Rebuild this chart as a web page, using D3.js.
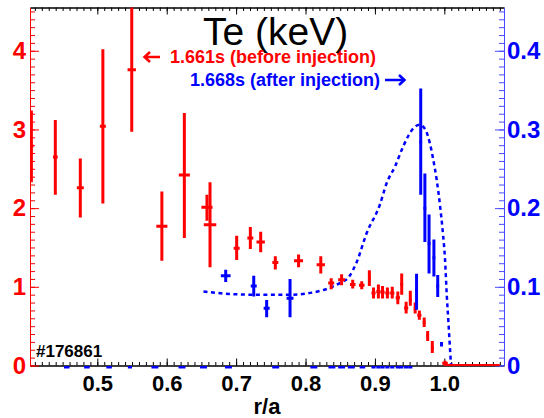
<!DOCTYPE html>
<html>
<head>
<meta charset="utf-8">
<script src="https://cdn.jsdelivr.net/npm/d3@7"></script>
<style>
  body { margin: 0; background: #fff; }
  svg { display: block; font-family: "Liberation Sans", Arial, sans-serif; }
</style>
</head>
<body>
<div id="vis"></div>
<script>
const width = 544;
const height = 418;

// red: 1.661s (before injection), left axis in keV
const redR  = [0.405, 0.4395, 0.4755, 0.508, 0.5496, 0.593, 0.6254, 0.658, 0.6624, 0.7008, 0.7205, 0.7354, 0.7565, 0.790, 0.822, 0.837, 0.852, 0.868, 0.881, 0.892, 0.898, 0.905, 0.911, 0.918, 0.925, 0.933, 0.9386, 0.945, 0.951, 0.958, 0.964, 0.971, 0.976, 0.9827, 1.001];
const redTe = [2.79, 2.65, 2.26, 3.04, 3.76, 1.77, 2.42, 2.01, 1.79, 1.49, 1.62, 1.57, 1.31, 1.33, 1.28, 1.05, 1.09, 1.03, 1.02, 1.11, 0.92, 0.94, 0.93, 0.92, 0.92, 0.86, 1.03, 0.73, 0.83, 0.72, 0.64, 0.545, 0.376, 0.227, 0.03];
const redLo = [2.33, 2.17, 1.88, 2.06, 2.97, 1.33, 1.62, 1.84, 1.25, 1.34, 1.48, 1.44, 1.22, 1.25, 1.17, 0.97, 1.02, 0.98, 0.97, 1.01, 0.85, 0.85, 0.85, 0.85, 0.85, 0.78, 0.90, 0.66, 0.76, 0.66, 0.58, 0.49, 0.31, 0.16, 0.0];
const redHi = [3.24, 3.12, 2.63, 4.02, 4.80, 2.21, 3.21, 2.17, 2.33, 1.65, 1.76, 1.70, 1.39, 1.41, 1.39, 1.11, 1.16, 1.09, 1.07, 1.21, 0.99, 1.03, 1.01, 0.99, 1.00, 0.94, 1.17, 0.81, 0.95, 0.80, 0.70, 0.61, 0.44, 0.31, 0.06];
const redXErr = [0.003, 0.0034, 0.005, 0.0043, 0.006, 0.008, 0.008, 0.008, 0.009, 0.0043, 0.0043, 0.006, 0.0043, 0.0065, 0.006, 0.0043, 0.005, 0.004, 0.004, 0.002, 0.003, 0.003, 0.003, 0.003, 0.003, 0.003, 0.002, 0.003, 0.002, 0.002, 0.003, 0.002, 0.002, 0.002, 0.004];
// red points at zero beyond the edge
const redZeroR = [1.01, 1.03, 1.05, 1.07];

// blue: 1.668s (after injection), right axis in keV
const blueR  = [0.685, 0.7254, 0.744, 0.7777, 0.960, 0.966, 0.972, 0.978, 0.985, 0.9905, 0.996];
const blueTe = [0.114, 0.101, 0.0729, 0.0856, 0.0962, 0.284, 0.200, 0.155, 0.137, 0.101, 0.027];
const blueLo = [0.106, 0.0877, 0.0614, 0.0614, 0.0707, 0.217, 0.157, 0.117, 0.113, 0.087, 0.024];
const blueHi = [0.1217, 0.114, 0.0834, 0.1098, 0.1166, 0.352, 0.244, 0.192, 0.160, 0.115, 0.030];
const blueXErr = [0.007, 0.0043, 0.0043, 0.005, 0.002, 0.002, 0.002, 0.002, 0.002, 0.002, 0.002];
// blue points sitting at ~0 (drawn just under the axis)
const blueZeroR = [0.456, 0.485, 0.517, 0.547, 0.583, 0.622, 0.653, 0.689, 0.757, 0.812, 0.838, 0.852, 0.866, 0.882, 0.898, 0.905, 0.911, 0.918, 0.925, 0.933, 0.938, 0.945, 0.951];
const blueZeroXErr = [0.004, 0.004, 0.004, 0.003, 0.005, 0.005, 0.005, 0.005, 0.005, 0.005, 0.005, 0.005, 0.005, 0.004, 0.003, 0.003, 0.003, 0.003, 0.003, 0.003, 0.003, 0.003, 0.003];

// blue dotted fit
const fitR  = [0.653, 0.69, 0.725, 0.778, 0.826, 0.85, 0.862, 0.874, 0.888, 0.907, 0.917, 0.929, 0.941, 0.955, 0.964, 0.972, 0.979, 0.984, 0.989, 0.994, 0.998, 1.001, 1.0035, 1.006, 1.008, 1.0097];
const fitTe = [0.094, 0.091, 0.090, 0.090, 0.096, 0.105, 0.112, 0.132, 0.168, 0.204, 0.232, 0.253, 0.279, 0.301, 0.306, 0.301, 0.283, 0.262, 0.236, 0.202, 0.168, 0.135, 0.090, 0.054, 0.024, 0.0];

const xTicks = [0.5, 0.6, 0.7, 0.8, 0.9, 1.0];
const xTickLabels = ['0.5', '0.6', '0.7', '0.8', '0.9', '1.0'];
const leftTicks = [0, 1, 2, 3, 4];
const rightTicks = [0, 0.1, 0.2, 0.3, 0.4];

const RED = '#ff0000';
const BLUE = '#0000ff';

const plot = { left: 30, right: 504, top: 7.5, bottom: 365.5 };

const svg = d3.select('#vis')
    .append('svg')
    .attr('width', width)
    .attr('height', height);

const x = d3.scaleLinear().domain([0.403, 1.086]).range([plot.left, plot.right]);
const yL = d3.scaleLinear().domain([0, 4.55]).range([plot.bottom, plot.top]);
const yR = d3.scaleLinear().domain([0, 0.455]).range([plot.bottom, plot.top]);

svg.append('defs').append('clipPath').attr('id', 'clip')
    .append('rect')
    .attr('x', plot.left).attr('y', plot.top)
    .attr('width', plot.right - plot.left)
    .attr('height', plot.bottom - plot.top + 6);

const minorX = d3.range(41, 109).map(d => d / 100);

// axes
function styleAxis(g, color) {
    g.selectAll('path.domain').attr('stroke', color).attr('stroke-width', 1);
    g.selectAll('.tick line').attr('stroke', color).attr('stroke-width', 1);
    g.selectAll('text').attr('font-weight', 'bold').attr('fill', color);
}

// bottom
svg.append('g')
    .attr('transform', `translate(0,${plot.bottom})`)
    .call(d3.axisBottom(x).tickValues(minorX).tickSizeInner(-3.5).tickSizeOuter(0).tickFormat(''))
    .call(g => styleAxis(g, '#000'));
svg.append('g')
    .attr('transform', `translate(0,${plot.bottom})`)
    .call(d3.axisBottom(x).tickValues(xTicks).tickSizeInner(-7).tickSizeOuter(0).tickPadding(10)
        .tickFormat((d, i) => xTickLabels[i]))
    .call(g => styleAxis(g, '#000'))
    .call(g => g.selectAll('text').attr('font-size', 22).attr('font-family', '"Liberation Sans", Arial, sans-serif'));

// top
svg.append('g')
    .attr('transform', `translate(0,${plot.top})`)
    .call(d3.axisTop(x).tickValues(minorX).tickSizeInner(-3.5).tickSizeOuter(0).tickFormat(''))
    .call(g => styleAxis(g, '#000'));
svg.append('g')
    .attr('transform', `translate(0,${plot.top})`)
    .call(d3.axisTop(x).tickValues(xTicks).tickSizeInner(-7).tickSizeOuter(0).tickFormat(''))
    .call(g => styleAxis(g, '#000'));

// left (red)
svg.append('g')
    .attr('transform', `translate(${plot.left},0)`)
    .call(d3.axisLeft(yL).tickValues(d3.range(0, 46).map(d => d / 10)).tickSizeInner(-5).tickSizeOuter(0).tickFormat(''))
    .call(g => styleAxis(g, RED));
svg.append('g')
    .attr('transform', `translate(${plot.left},0)`)
    .call(d3.axisLeft(yL).tickValues(leftTicks).tickSizeInner(-9).tickSizeOuter(0).tickPadding(4).tickFormat(d3.format('d')))
    .call(g => styleAxis(g, RED))
    .call(g => g.selectAll('text').attr('font-size', 24).attr('font-family', '"Liberation Sans", Arial, sans-serif'));

// right (blue)
svg.append('g')
    .attr('transform', `translate(${plot.right},0)`)
    .call(d3.axisRight(yR).tickValues(d3.range(0, 46).map(d => d / 100)).tickSizeInner(-5).tickSizeOuter(0).tickFormat(''))
    .call(g => styleAxis(g, '#4a4aff'));
svg.append('g')
    .attr('transform', `translate(${plot.right},0)`)
    .call(d3.axisRight(yR).tickValues(rightTicks).tickSizeInner(-9).tickSizeOuter(0).tickPadding(3)
        .tickFormat(d => d === 0 ? '0' : d3.format('.1f')(d)))
    .call(g => styleAxis(g, '#4a4aff'))
    .call(g => g.selectAll('text').attr('fill', BLUE).attr('font-size', 24).attr('font-family', '"Liberation Sans", Arial, sans-serif'));

// data
const data = svg.append('g').attr('clip-path', 'url(#clip)');

// blue zero points under the axis
data.append('g')
    .selectAll('line')
    .data(blueZeroR)
    .join('line')
    .attr('x1', (d, i) => x(d - blueZeroXErr[i]))
    .attr('x2', (d, i) => x(d + blueZeroXErr[i]))
    .attr('y1', yR(-0.0022))
    .attr('y2', yR(-0.0022))
    .attr('stroke', BLUE)
    .attr('stroke-width', 2.5);

// blue dotted fit
data.append('path')
    .datum(fitR.map((r, i) => [r, fitTe[i]]))
    .attr('fill', 'none')
    .attr('stroke', BLUE)
    .attr('stroke-width', 2.5)
    .attr('stroke-dasharray', '4,3.5')
    .attr('d', d3.line().x(d => x(d[0])).y(d => yR(d[1])).curve(d3.curveMonotoneX));

// red error bars
const red = data.append('g');
red.selectAll('line.v')
    .data(redR)
    .join('line')
    .attr('class', 'v')
    .attr('x1', d => x(d)).attr('x2', d => x(d))
    .attr('y1', (d, i) => yL(redLo[i]))
    .attr('y2', (d, i) => yL(redHi[i]))
    .attr('stroke', RED)
    .attr('stroke-width', 3);
red.selectAll('line.h')
    .data(redR)
    .join('line')
    .attr('class', 'h')
    .attr('x1', (d, i) => x(d - redXErr[i]))
    .attr('x2', (d, i) => x(d + redXErr[i]))
    .attr('y1', (d, i) => yL(redTe[i]))
    .attr('y2', (d, i) => yL(redTe[i]))
    .attr('stroke', RED)
    .attr('stroke-width', 3);
red.selectAll('line.z')
    .data(redZeroR)
    .join('line')
    .attr('class', 'z')
    .attr('x1', d => x(d - 0.01))
    .attr('x2', d => x(d + 0.01))
    .attr('y1', yL(0) - 0.5)
    .attr('y2', yL(0) - 0.5)
    .attr('stroke', RED)
    .attr('stroke-width', 2);

// blue error bars
const blue = data.append('g');
blue.selectAll('line.v')
    .data(blueR)
    .join('line')
    .attr('class', 'v')
    .attr('x1', d => x(d)).attr('x2', d => x(d))
    .attr('y1', (d, i) => yR(blueLo[i]))
    .attr('y2', (d, i) => yR(blueHi[i]))
    .attr('stroke', BLUE)
    .attr('stroke-width', 3);
blue.selectAll('line.h')
    .data(blueR)
    .join('line')
    .attr('class', 'h')
    .attr('x1', (d, i) => x(d - blueXErr[i]))
    .attr('x2', (d, i) => x(d + blueXErr[i]))
    .attr('y1', (d, i) => yR(blueTe[i]))
    .attr('y2', (d, i) => yR(blueTe[i]))
    .attr('stroke', BLUE)
    .attr('stroke-width', 3);

// title and labels
svg.append('text')
    .attr('x', 203).attr('y', 45)
    .attr('font-size', 39)
    .attr('fill', '#000')
    .text('Te (keV)');

svg.append('text')
    .attr('x', 170).attr('y', 63)
    .attr('font-size', 18).attr('font-weight', 'bold')
    .attr('fill', RED)
    .text('1.661s (before injection)');

svg.append('text')
    .attr('x', 190).attr('y', 86)
    .attr('font-size', 18).attr('font-weight', 'bold')
    .attr('fill', BLUE)
    .text('1.668s (after injection)');

// arrows
svg.append('path')
    .attr('d', 'M160,57 L145,57 M150,52 L144.5,57 L150,62')
    .attr('fill', 'none').attr('stroke', RED).attr('stroke-width', 2.5);
svg.append('path')
    .attr('d', 'M385,80 L404,80 M399,75 L404.5,80 L399,85')
    .attr('fill', 'none').attr('stroke', BLUE).attr('stroke-width', 2.5);

svg.append('text')
    .attr('x', 36).attr('y', 357)
    .attr('font-size', 17).attr('font-weight', 'bold')
    .attr('fill', '#000')
    .text('#176861');

svg.append('text')
    .attr('x', 267).attr('y', 414)
    .attr('text-anchor', 'middle')
    .attr('font-size', 22).attr('font-weight', 'bold')
    .attr('fill', '#000')
    .text('r/a');
</script>
</body>
</html>
